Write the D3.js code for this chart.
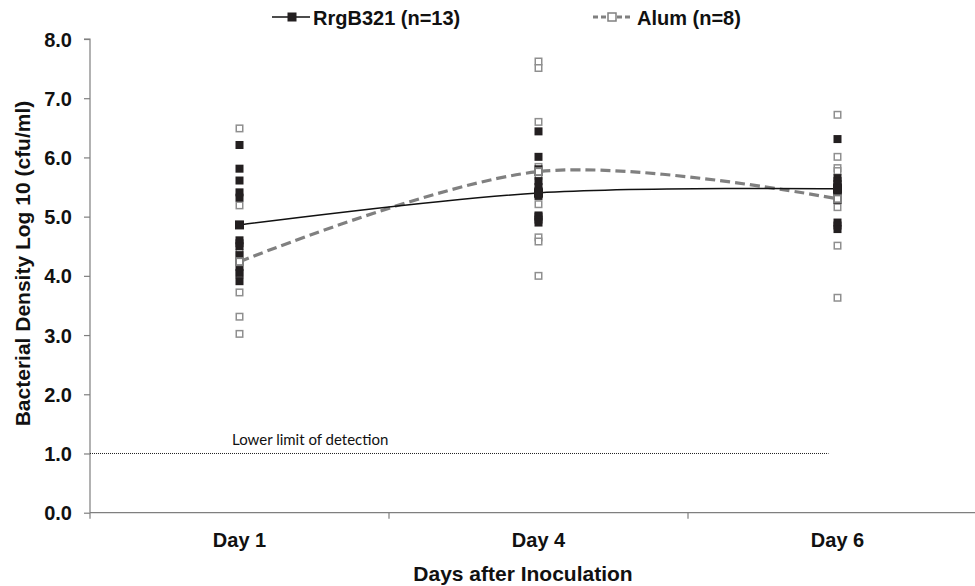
<!DOCTYPE html>
<html>
<head>
<meta charset="utf-8">
<script src="https://cdn.jsdelivr.net/npm/d3@7"></script>
<style>
  html, body { margin: 0; padding: 0; background: #fff; }
  svg { display: block; }
</style>
</head>
<body>
<div id="chart"></div>
<script>
// ---- data ----
const days = ["Day 1", "Day 4", "Day 6"];
const yTicks = [0, 1, 2, 3, 4, 5, 6, 7, 8];
const seriesNames = ["RrgB321 (n=13)", "Alum (n=8)"];
const rrgbMeans = [4.86, 5.40, 5.47];
const alumMeans = [4.24, 5.76, 5.30];
const rrgbDay1 = [6.21, 5.81, 5.61, 5.41, 5.32, 4.86, 4.60, 4.55, 4.50, 4.35, 4.15, 4.05, 3.91];
const rrgbDay4 = [6.44, 6.01, 5.80, 5.60, 5.50, 5.43, 5.41, 5.38, 5.35, 5.02, 5.00, 4.95, 4.90];
const rrgbDay6 = [6.31, 5.65, 5.60, 5.55, 5.50, 5.47, 5.42, 5.38, 5.33, 5.28, 4.90, 4.85, 4.79];
const alumDay1 = [6.49, 5.19, 4.39, 4.24, 4.02, 3.72, 3.31, 3.02];
const alumDay4 = [7.62, 7.51, 6.60, 5.84, 5.69, 5.21, 4.65, 4.58, 4.00];
const alumDay6 = [6.72, 6.01, 5.82, 5.77, 5.28, 5.16, 4.51, 3.63];
const detectionLimit = 1.0;
const detectionLabel = "Lower limit of detection";

// ---- layout ----
const W = 975, H = 586;
const svg = d3.select("#chart").append("svg").attr("width", W).attr("height", H);

const x = d3.scaleBand().domain(days).range([90, 987]);
const y = d3.scaleLinear().domain([0, 8]).range([512.7, 39]);
const cx = d => x(d) + x.bandwidth() / 2;

const boldFont = "'Liberation Sans', Arial, sans-serif";
const axisColor = "#7f7f7f";
const darkFill = "#231f20";
const hollowStroke = "#8f8f8f";
const dashColor = "#808080";

// ---- axes ----
const yAxis = svg.append("g").attr("transform", "translate(90,0)")
  .call(d3.axisLeft(y).tickValues(yTicks).tickSize(6).tickPadding(12).tickFormat(d3.format(".1f")));
yAxis.select(".domain").attr("stroke", axisColor).attr("stroke-width", 1.2).attr("d", `M-6,${y(8)}H0V${y(0)}`);
yAxis.selectAll(".tick line").attr("stroke", axisColor).attr("stroke-width", 1.2);
yAxis.selectAll(".tick text").attr("font-family", boldFont).attr("font-weight", "bold")
  .attr("font-size", "20px").attr("fill", "#111").attr("dy", "0.35em");

const xAxis = svg.append("g").attr("transform", `translate(0,${y(0)})`)
  .call(d3.axisBottom(x).tickSize(0).tickPadding(0));
xAxis.select(".domain").attr("stroke", axisColor).attr("stroke-width", 1.2).attr("d", `M90,0H975`);
xAxis.selectAll(".tick text").attr("font-family", boldFont).attr("font-weight", "bold")
  .attr("font-size", "20px").attr("fill", "#111").attr("dy", null).attr("y", 34);
// category separators
const sepPositions = [x.range()[0]].concat(days.slice(1).map(d => x(d)));
svg.append("g").selectAll("line").data(sepPositions).join("line")
  .attr("x1", d => d).attr("x2", d => d)
  .attr("y1", y(0)).attr("y2", y(0) + 6)
  .attr("stroke", axisColor).attr("stroke-width", 1.2);

// axis titles
svg.append("text").attr("x", 523).attr("y", 580.7).attr("text-anchor", "middle")
  .attr("font-family", boldFont).attr("font-weight", "bold").attr("font-size", "21px").attr("fill", "#111")
  .text("Days after Inoculation");
svg.append("text").attr("transform", "translate(30,263.5) rotate(-90)").attr("text-anchor", "middle")
  .attr("font-family", boldFont).attr("font-weight", "bold").attr("font-size", "21px").attr("fill", "#111")
  .text("Bacterial Density Log 10 (cfu/ml)");

// ---- detection limit ----
svg.append("line").attr("x1", 90).attr("x2", cx("Day 6") - 9)
  .attr("y1", y(detectionLimit)).attr("y2", y(detectionLimit))
  .attr("stroke", "#222").attr("stroke-width", 1).attr("stroke-dasharray", "1,1");
svg.append("text").attr("x", 232).attr("y", y(detectionLimit) - 8)
  .attr("font-family", "Lato, 'Open Sans', sans-serif").attr("font-size", "15px").attr("fill", "#111")
  .text(detectionLabel);

// ---- individual points ----
const alumPts = [alumDay1, alumDay4, alumDay6].flatMap((arr, i) => arr.map(v => ({ day: days[i], v })));
const rrgbPts = [rrgbDay1, rrgbDay4, rrgbDay6].flatMap((arr, i) => arr.map(v => ({ day: days[i], v })));
const s = 8;
svg.append("g").selectAll("rect").data(alumPts).join("rect")
  .attr("x", d => cx(d.day) - (s - 1.5) / 2).attr("y", d => y(d.v) - (s - 1.5) / 2)
  .attr("width", s - 1.5).attr("height", s - 1.5)
  .attr("fill", "#fff").attr("stroke", hollowStroke).attr("stroke-width", 1.5);
svg.append("g").selectAll("rect").data(rrgbPts).join("rect")
  .attr("x", d => cx(d.day) - s / 2).attr("y", d => y(d.v) - s / 2)
  .attr("width", s).attr("height", s).attr("fill", darkFill);

// ---- mean lines ----
const line = d3.line().x((d, i) => cx(days[i])).y(d => y(d)).curve(d3.curveCardinal.tension(0));
svg.append("path").datum(alumMeans).attr("d", line).attr("fill", "none")
  .attr("stroke", dashColor).attr("stroke-width", 3.2).attr("stroke-dasharray", "10,5");
svg.append("path").datum(rrgbMeans).attr("d", line).attr("fill", "none")
  .attr("stroke", "#111").attr("stroke-width", 1.5);

const ms = 9;
svg.append("g").selectAll("rect").data(rrgbMeans).join("rect")
  .attr("x", (d, i) => cx(days[i]) - ms / 2).attr("y", d => y(d) - ms / 2)
  .attr("width", ms).attr("height", ms).attr("fill", darkFill);
svg.append("g").selectAll("rect").data(alumMeans).join("rect")
  .attr("x", (d, i) => cx(days[i]) - (ms - 2) / 2).attr("y", d => y(d) - (ms - 2) / 2)
  .attr("width", ms - 2).attr("height", ms - 2)
  .attr("fill", "#fff").attr("stroke", dashColor).attr("stroke-width", 2);

// ---- legend ----
const lg = svg.append("g");
// RrgB321
lg.append("line").attr("x1", 272).attr("x2", 310).attr("y1", 17).attr("y2", 17)
  .attr("stroke", "#111").attr("stroke-width", 1.5);
lg.append("rect").attr("x", 292 - 4.5).attr("y", 17 - 4.5).attr("width", 9).attr("height", 9).attr("fill", darkFill);
lg.append("text").attr("x", 313).attr("y", 25).attr("font-family", boldFont).attr("font-weight", "bold")
  .attr("font-size", "20px").attr("fill", "#111").text(seriesNames[0]);
// Alum
lg.append("line").attr("x1", 593).attr("x2", 633).attr("y1", 17).attr("y2", 17)
  .attr("stroke", dashColor).attr("stroke-width", 3).attr("stroke-dasharray", "5,3");
lg.append("rect").attr("x", 612 - 4).attr("y", 17 - 4).attr("width", 8).attr("height", 8)
  .attr("fill", "#fff").attr("stroke", dashColor).attr("stroke-width", 1.5);
lg.append("text").attr("x", 637).attr("y", 25).attr("font-family", boldFont).attr("font-weight", "bold")
  .attr("font-size", "20px").attr("fill", "#111").text(seriesNames[1]);
</script>
</body>
</html>
